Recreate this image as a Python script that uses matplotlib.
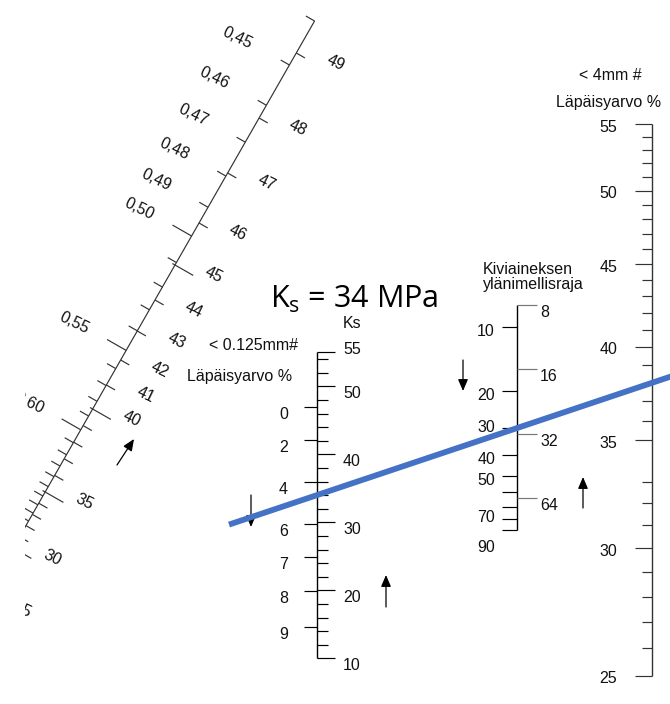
import numpy as np
import matplotlib
matplotlib.use("Agg")
import matplotlib.pyplot as plt

# --- Lukuarvot ---
KS_ARVO = 34                # MPa, luettu keskiasteikolta
LAPAISY_4MM_ARVO = 38       # %, luettu oikealta asteikolta

VS_TEKSTIT = [0.45, 0.46, 0.47, 0.48, 0.49, 0.50, 0.55, 0.60]
VS_VIIVAT = [round(0.44 + 0.01 * i, 2) for i in range(27)]      # 0.44 ... 0.70

LUJUUS_TEKSTIT = [49, 48, 47, 46, 45, 44, 43, 42, 41, 40, 35, 30, 25]
LUJUUS_VIIVAT = list(range(25, 50))

KS_TEKSTIT = [55, 50, 40, 30, 20, 10]
KS_VIIVAT = [55] + list(range(10, 55, 2))

HIENO_TEKSTIT = [0, 2, 4, 6, 7, 8, 9]

KIVI_VASEN_TEKSTIT = [10, 20, 30, 40, 50, 70, 90]
KIVI_VASEN_VIIVAT = list(range(10, 100, 10))
KIVI_OIKEA_TEKSTIT = [8, 16, 32, 64]

LAPAISY_TEKSTIT = [55, 50, 45, 40, 35, 30, 25]
LAPAISY_VIIVAT = [v for v in range(25, 56) if v != 34]

# --- Asteikkojen paikat (pikseleina, y alaspain) ---
VINO_YLA = (318, 15)
VINO_KULMA = 0.572          # dx/dy
KESKI_X = 317
KIVI_X = 517
OIKEA_X = 652

# epasaannolliset asteikot: kalibrointi kuvasta
LUJUUS_KALIBR = [53, 118, 173, 223, 265, 300, 331, 360, 385, 409, 492, 548, 600]
HIENO_KALIBR = [407, 440, 482, 524, 557, 591, 627]
KIVI_TEKSTI_SIIRTO = {30: -6, 70: 6, 90: 12}

NUOLET = [((117, 465), (134, 439)), ((251, 495), (251, 527)),
          ((386, 607), (386, 575)), ((463, 360), (463, 391)),
          ((583, 508), (583, 477))]

TXT = '#111111'
SININEN = '#4472C4'

plt.rcParams['font.family'] = ['Liberation Sans', 'DejaVu Sans']


def vs_y(v):
    return 65 + 57.5 * (1 / 0.45**3 - 1 / np.asarray(v, float)**3)

def lujuus_y(v):
    return np.interp(-np.asarray(v, float), -np.array(LUJUUS_TEKSTIT, float), LUJUUS_KALIBR)

def ks_y(v):
    return 658.3 - 6.8 * (np.asarray(v, float) - 10)

def hieno_y(v):
    return np.interp(v, HIENO_TEKSTIT, HIENO_KALIBR)

def kivi_vasen_y(v):
    return 326.5 + 213.3 * np.log10(np.asarray(v, float) / 10)

def kivi_oikea_y(v):
    return 305 + 64.4 * np.log2(np.asarray(v, float) / 8)

def lapaisy_y(v):
    return 124 + 700 * np.log(55 / np.asarray(v, float))

def vino_x(y):
    return VINO_YLA[0] - VINO_KULMA * (y - VINO_YLA[1])


fig = plt.figure(figsize=(6.7, 7.04), dpi=100)
ax = fig.add_axes([25 / 670, 0, 645 / 670, 1])
ax.set_xlim(25, 670)
ax.set_ylim(704, 0)
ax.axis('off')


def viiva(x0, y0, x1, y1, color='#222222', lw=0.85, z=2):
    ax.plot([x0, x1], [y0, y1], color=color, lw=lw, solid_capstyle='butt', zorder=z)

def teksti(x, y, s, **kw):
    kw.setdefault('fontsize', 11.5)
    kw.setdefault('color', TXT)
    ax.text(x, y, s, clip_on=True, **kw)


# --- Vino asteikko: v/s-suhde (vasen) ja lujuus (oikea) ---
nx, ny = np.array([1, VINO_KULMA]) / np.hypot(1, VINO_KULMA)
y_yla = float(vs_y(0.44))
viiva(vino_x(y_yla), y_yla, vino_x(700), 700, color='#333333')

for v in VS_VIIVAT:
    y = float(vs_y(v))
    x = vino_x(y)
    pitka = v >= 0.5 and round(v * 100) % 5 == 0 and v <= 0.6
    L = 22 if pitka else 10
    viiva(x, y, x - L * nx, y - L * ny, color='#333333')
for v in VS_TEKSTIT:
    y = float(vs_y(v))
    teksti(vino_x(y) - 52, y - 27, f"{v:.2f}".replace('.', ','), fontsize=11.5,
           rotation=-26, ha='center', va='center', rotation_mode='anchor')

for v in LUJUUS_VIIVAT:
    y = float(lujuus_y(v))
    x = vino_x(y)
    if v % 5 == 0:
        viiva(x - 3 * nx, y - 3 * ny, x + 21 * nx, y + 21 * ny, color='#333333')
    else:
        viiva(x, y, x + 10 * nx, y + 10 * ny, color='#333333')
for v in LUJUUS_TEKSTIT:
    y = float(lujuus_y(v))
    teksti(vino_x(y) + 39, y + 10, str(v), fontsize=11.5,
           rotation=-26, ha='center', va='center', rotation_mode='anchor')

# --- Keskiasteikko: Ks (oikea) ja < 0.125 mm lapaisy (vasen) ---
viiva(KESKI_X, float(ks_y(55)), KESKI_X, float(ks_y(10)), color='black', lw=1)
for v in KS_VIIVAT:
    y = float(ks_y(v))
    L = 18 if v in KS_TEKSTIT else 11
    viiva(KESKI_X, y, KESKI_X + L, y, color='black')
for v in KS_TEKSTIT:
    y = float(ks_y(v))
    teksti(KESKI_X + 26, y - (10 if v == max(KS_TEKSTIT) else 0), str(v),
           ha='left', va='top')
teksti(KESKI_X + 26, 324, 'Ks', ha='left', va='center')

for v in HIENO_TEKSTIT:
    y = float(hieno_y(v))
    viiva(KESKI_X - 13, y, KESKI_X, y, color='black')
    teksti(KESKI_X - 29, y, str(v), ha='right', va='top')
teksti(298, 345, '< 0.125mm#', ha='right', va='center')
teksti(292, 377, 'Läpäisyarvo %', ha='right', va='center')

# --- Kiviaineksen ylanimellisraja ---
viiva(KIVI_X, float(kivi_oikea_y(8)), KIVI_X, float(kivi_vasen_y(90)), color='black', lw=1)
for v in KIVI_VASEN_VIIVAT:
    y = float(kivi_vasen_y(v))
    viiva(KIVI_X - 15, y, KIVI_X, y, color='black')
for v in KIVI_VASEN_TEKSTIT:
    y = float(kivi_vasen_y(v)) + 5 + KIVI_TEKSTI_SIIRTO.get(v, 0)
    teksti(KIVI_X - 22, y, str(v), ha='right', va='center')
for v in KIVI_OIKEA_TEKSTIT:
    y = float(kivi_oikea_y(v))
    viiva(KIVI_X, y, KIVI_X + 20, y, color='#777777')
    teksti(KIVI_X + 23, y, str(v), ha='left', va='top')
teksti(483, 270, 'Kiviaineksen', ha='left', va='center')
teksti(483, 285, 'ylänimellisraja', ha='left', va='center')

# --- Oikea asteikko: < 4 mm lapaisy ---
viiva(OIKEA_X, float(lapaisy_y(55)), OIKEA_X, float(lapaisy_y(25)), color='#333333', lw=1)
for v in LAPAISY_VIIVAT:
    y = float(lapaisy_y(v))
    L = 17 if v % 5 == 0 else 10
    viiva(OIKEA_X - L, y, OIKEA_X, y, color='#333333')
for v in LAPAISY_TEKSTIT:
    teksti(OIKEA_X - 35, float(lapaisy_y(v)) + 3, str(v), ha='right', va='center')
teksti(610, 75, '< 4mm #', ha='center', va='center')
teksti(609, 102, 'Läpäisyarvo %', ha='center', va='center')

# --- Nuolet ---
for (x0, y0), (x1, y1) in NUOLET:
    ax.annotate('', xy=(x1, y1), xytext=(x0, y0),
                arrowprops=dict(arrowstyle='-|>,head_length=0.7,head_width=0.3',
                                color='black', lw=0.9, shrinkA=0, shrinkB=0,
                                mutation_scale=10))

# --- Isopleetti: Ks -> < 4 mm lapaisy ---
ya = float(ks_y(KS_ARVO))
yb = float(lapaisy_y(LAPAISY_4MM_ARVO))
k = (yb - ya) / (OIKEA_X - KESKI_X)
xs = np.array([229, 690])
ax.plot(xs, ya + k * (xs - KESKI_X), color=SININEN, lw=4.2,
        solid_capstyle='butt', zorder=5)

teksti(270, 308, f"K$_{{\\mathregular{{s}}}}$ = {KS_ARVO} MPa",
       fontsize=22, family='Open Sans', color='black', ha='left', va='baseline')

fig.savefig('out.png', dpi=100)
